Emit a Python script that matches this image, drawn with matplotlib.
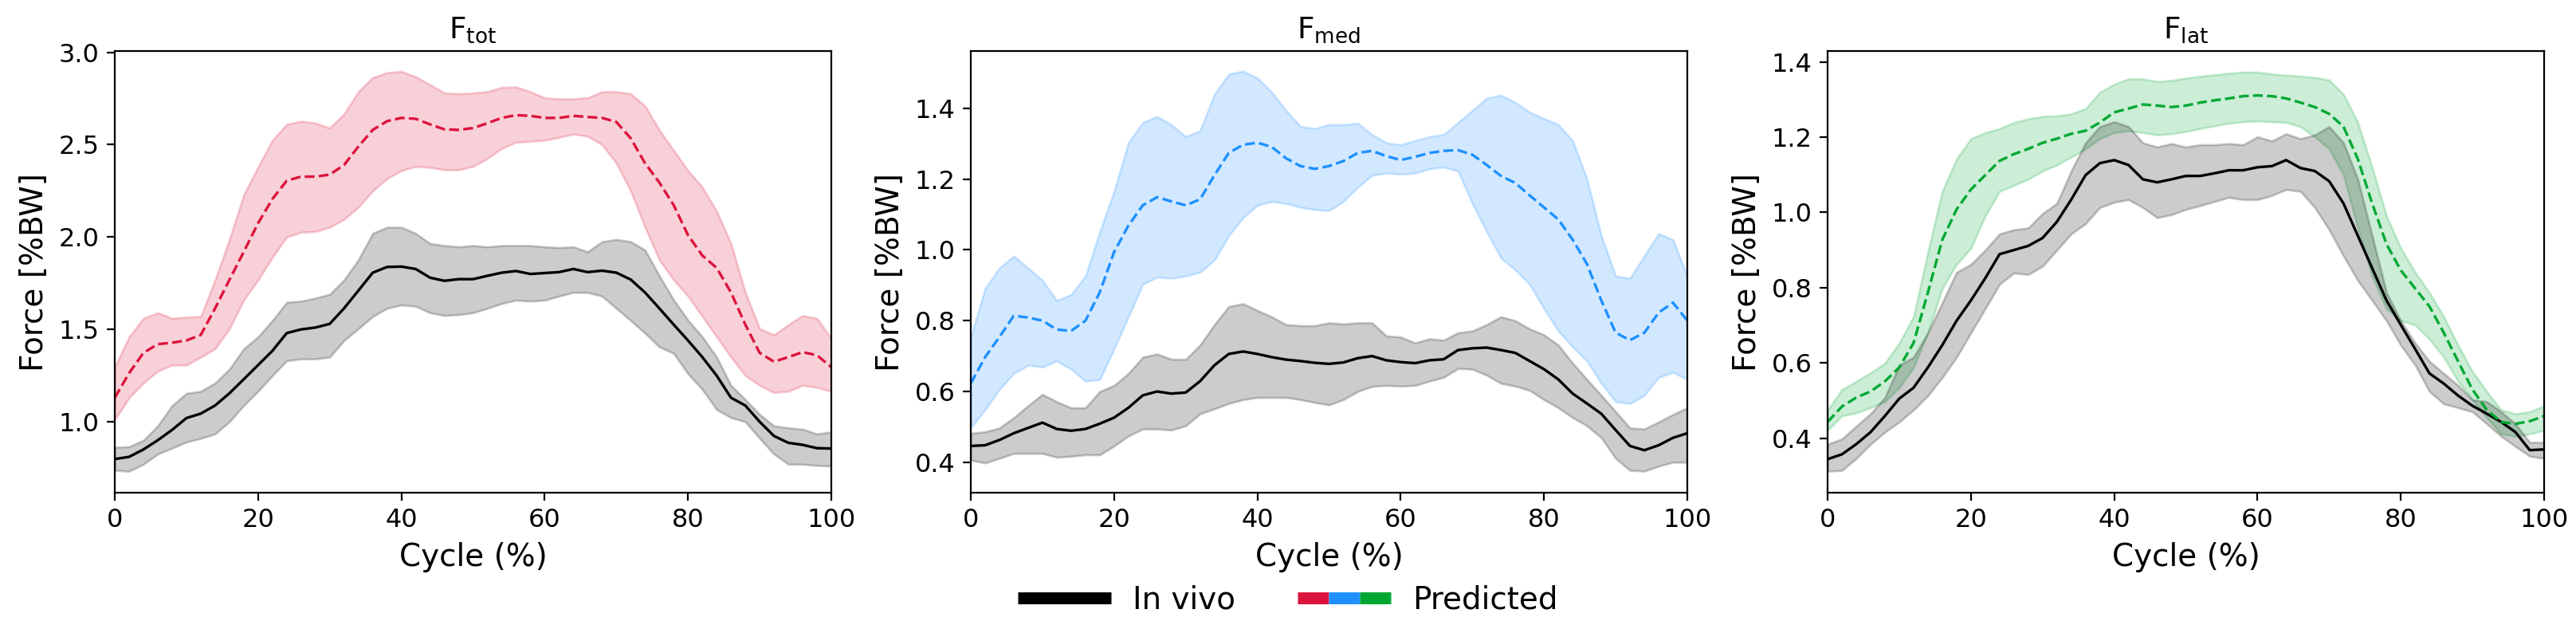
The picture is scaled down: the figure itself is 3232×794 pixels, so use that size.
import numpy as np
import matplotlib
matplotlib.use("Agg")
import matplotlib.pyplot as plt
from matplotlib.lines import Line2D
from matplotlib.legend_handler import HandlerTuple

cycle = np.arange(0, 101, 2)

tot_vivo_mean = [0.798,0.81,0.85,0.90,0.956,1.02,1.044,1.088,1.154,1.23,
 1.307,1.384,1.48,1.50,1.51,1.53,1.614,1.71,1.807,1.838,
 1.84,1.827,1.78,1.763,1.772,1.772,1.79,1.807,1.816,1.80,
 1.805,1.81,1.827,1.81,1.818,1.807,1.77,1.70,1.614,1.526,
 1.44,1.35,1.25,1.13,1.088,1.0,0.923,0.886,0.875,0.857,0.855]
tot_vivo_hi = [0.862,0.865,0.90,0.978,1.088,1.154,1.165,1.21,1.285,1.395,
 1.46,1.548,1.647,1.653,1.67,1.69,1.768,1.877,2.02,2.053,
 2.053,2.02,1.965,1.954,1.947,1.954,1.947,1.954,1.954,1.954,
 1.947,1.943,1.947,1.92,1.975,1.987,1.975,1.93,1.79,1.66,
 1.55,1.46,1.35,1.197,1.12,1.04,0.978,0.967,0.96,0.934,0.945]
tot_vivo_lo = [0.737,0.732,0.77,0.825,0.857,0.89,0.91,0.934,1.0,1.088,
 1.165,1.25,1.33,1.34,1.34,1.35,1.44,1.504,1.57,1.614,
 1.632,1.625,1.59,1.575,1.58,1.59,1.614,1.64,1.658,1.653,
 1.658,1.68,1.70,1.70,1.68,1.614,1.548,1.48,1.405,1.37,
 1.26,1.175,1.066,1.022,1.0,0.91,0.825,0.77,0.77,0.763,0.76]
tot_pred_mean = [1.13,1.263,1.373,1.42,1.428,1.44,1.47,1.614,1.768,1.92,
 2.075,2.206,2.305,2.327,2.327,2.338,2.39,2.49,2.58,2.627,
 2.645,2.64,2.61,2.583,2.58,2.59,2.616,2.645,2.66,2.656,
 2.645,2.645,2.656,2.65,2.645,2.623,2.535,2.40,2.295,2.173,
 2.01,1.90,1.833,1.70,1.526,1.373,1.325,1.35,1.377,1.36,1.296]
tot_pred_hi = [1.296,1.46,1.56,1.59,1.56,1.566,1.57,1.768,1.987,2.228,
 2.38,2.524,2.61,2.627,2.618,2.59,2.667,2.787,2.864,2.89,
 2.897,2.868,2.825,2.78,2.776,2.78,2.787,2.81,2.813,2.787,
 2.754,2.748,2.748,2.754,2.787,2.787,2.776,2.71,2.58,2.47,
 2.36,2.27,2.14,1.965,1.70,1.504,1.47,1.526,1.575,1.56,1.45]
tot_pred_lo = [1.011,1.13,1.21,1.274,1.307,1.307,1.35,1.395,1.504,1.658,
 1.768,1.89,2.0,2.026,2.03,2.053,2.096,2.162,2.25,2.316,
 2.36,2.382,2.377,2.364,2.364,2.382,2.425,2.48,2.513,2.518,
 2.524,2.54,2.557,2.546,2.50,2.40,2.25,2.053,1.877,1.768,
 1.68,1.57,1.46,1.35,1.25,1.197,1.158,1.165,1.197,1.186,1.165]

med_vivo_mean = [0.446,0.448,0.463,0.482,0.497,0.512,0.494,0.489,0.494,0.509,
 0.526,0.554,0.589,0.60,0.594,0.597,0.629,0.674,0.706,0.713,
 0.706,0.697,0.69,0.686,0.681,0.678,0.682,0.694,0.70,0.688,
 0.683,0.68,0.688,0.691,0.717,0.722,0.724,0.717,0.709,0.686,
 0.663,0.634,0.594,0.566,0.537,0.491,0.446,0.434,0.448,0.469,0.482]
med_vivo_hi = [0.482,0.486,0.497,0.526,0.56,0.592,0.571,0.554,0.554,0.60,
 0.617,0.651,0.697,0.706,0.691,0.691,0.731,0.789,0.84,0.848,
 0.829,0.811,0.789,0.786,0.786,0.794,0.791,0.794,0.794,0.757,
 0.754,0.737,0.749,0.745,0.766,0.771,0.789,0.811,0.80,0.777,
 0.76,0.731,0.68,0.634,0.589,0.543,0.497,0.494,0.514,0.535,0.554]
med_vivo_lo = [0.406,0.398,0.411,0.425,0.425,0.425,0.414,0.417,0.421,0.421,
 0.446,0.474,0.494,0.494,0.491,0.503,0.537,0.551,0.566,0.577,
 0.583,0.583,0.583,0.577,0.569,0.562,0.577,0.60,0.614,0.617,
 0.615,0.617,0.629,0.64,0.665,0.663,0.646,0.623,0.615,0.603,
 0.577,0.554,0.526,0.503,0.469,0.411,0.377,0.375,0.389,0.40,0.40]
med_pred_mean = [0.623,0.697,0.754,0.814,0.809,0.80,0.775,0.771,0.80,0.88,
 0.994,1.069,1.126,1.149,1.137,1.126,1.143,1.211,1.274,1.297,
 1.303,1.291,1.259,1.237,1.229,1.237,1.251,1.274,1.28,1.265,
 1.254,1.263,1.274,1.28,1.282,1.269,1.24,1.209,1.189,1.154,
 1.12,1.086,1.029,0.96,0.857,0.766,0.745,0.766,0.823,0.851,0.80]
med_pred_hi = [0.754,0.891,0.949,0.983,0.949,0.914,0.857,0.874,0.926,1.051,
 1.166,1.303,1.36,1.377,1.354,1.32,1.337,1.44,1.497,1.505,
 1.486,1.446,1.394,1.349,1.343,1.354,1.354,1.358,1.326,1.303,
 1.297,1.309,1.32,1.326,1.36,1.394,1.429,1.437,1.417,1.389,
 1.371,1.354,1.309,1.20,1.04,0.926,0.92,0.983,1.046,1.029,0.926]
med_pred_lo = [0.497,0.549,0.606,0.651,0.674,0.669,0.686,0.663,0.629,0.634,
 0.72,0.811,0.903,0.923,0.92,0.926,0.937,0.971,1.04,1.091,
 1.126,1.137,1.131,1.12,1.114,1.111,1.137,1.177,1.211,1.217,
 1.214,1.217,1.229,1.234,1.223,1.131,1.051,0.977,0.943,0.903,
 0.834,0.771,0.726,0.686,0.623,0.571,0.566,0.589,0.64,0.654,0.634]

lat_vivo_mean = [0.344,0.357,0.384,0.416,0.459,0.505,0.534,0.588,0.647,0.712,
 0.766,0.825,0.889,0.90,0.911,0.932,0.975,1.034,1.099,1.131,
 1.139,1.126,1.088,1.08,1.088,1.097,1.097,1.104,1.112,1.112,
 1.12,1.123,1.139,1.118,1.11,1.083,1.024,0.938,0.852,0.766,
 0.701,0.637,0.572,0.545,0.513,0.486,0.465,0.443,0.416,0.368,0.37]
lat_vivo_hi = [0.384,0.398,0.432,0.465,0.508,0.594,0.615,0.68,0.76,0.841,
 0.862,0.90,0.943,0.954,0.959,0.997,1.024,1.11,1.185,1.228,
 1.241,1.228,1.185,1.174,1.183,1.174,1.18,1.18,1.183,1.18,
 1.201,1.19,1.209,1.196,1.206,1.228,1.185,1.088,0.938,0.787,
 0.712,0.653,0.604,0.572,0.54,0.502,0.497,0.47,0.438,0.389,0.389]
lat_vivo_lo = [0.312,0.314,0.346,0.384,0.416,0.443,0.475,0.513,0.561,0.615,
 0.68,0.744,0.809,0.839,0.835,0.857,0.90,0.943,0.97,1.013,
 1.027,1.034,1.013,0.986,0.994,1.008,1.018,1.029,1.04,1.034,
 1.034,1.045,1.061,1.056,1.013,0.954,0.884,0.819,0.766,0.712,
 0.647,0.594,0.524,0.491,0.481,0.47,0.438,0.405,0.378,0.352,0.346]
lat_pred_mean = [0.443,0.484,0.508,0.524,0.551,0.588,0.653,0.787,0.927,1.008,
 1.061,1.099,1.137,1.155,1.169,1.185,1.196,1.209,1.217,1.239,
 1.266,1.276,1.287,1.284,1.28,1.284,1.292,1.298,1.303,1.309,
 1.311,1.309,1.303,1.292,1.28,1.262,1.228,1.142,1.024,0.916,
 0.846,0.798,0.75,0.68,0.604,0.529,0.475,0.443,0.438,0.445,0.459]
lat_pred_hi = [0.475,0.529,0.551,0.574,0.599,0.653,0.723,0.895,1.056,1.142,
 1.196,1.212,1.223,1.239,1.249,1.255,1.257,1.262,1.276,1.319,
 1.341,1.355,1.355,1.348,1.351,1.357,1.362,1.366,1.37,1.373,
 1.373,1.368,1.365,1.362,1.359,1.352,1.314,1.239,1.12,0.991,
 0.905,0.841,0.787,0.723,0.647,0.577,0.524,0.475,0.465,0.47,0.486]
lat_pred_lo = [0.421,0.459,0.467,0.481,0.497,0.534,0.588,0.68,0.798,0.862,
 0.905,0.991,1.056,1.072,1.088,1.11,1.126,1.147,1.169,1.196,
 1.212,1.217,1.212,1.206,1.209,1.215,1.223,1.23,1.237,1.241,
 1.243,1.241,1.239,1.228,1.201,1.169,1.099,0.959,0.83,0.744,
 0.712,0.701,0.663,0.615,0.551,0.502,0.454,0.411,0.405,0.411,0.421]

titles = [r"F$_{\mathrm{tot}}$", r"F$_{\mathrm{med}}$", r"F$_{\mathrm{lat}}$"]
pred_colors = ["#DC143C", "#1E90FF", "#00A832"]
ylims = [(0.616, 3.007), (0.314, 1.562), (0.255, 1.429)]
yticks = [[1.0, 1.5, 2.0, 2.5, 3.0], [0.4, 0.6, 0.8, 1.0, 1.2, 1.4], [0.4, 0.6, 0.8, 1.0, 1.2, 1.4]]
xticks = [0, 20, 40, 60, 80, 100]

panels = [
    (tot_vivo_mean, tot_vivo_lo, tot_vivo_hi, tot_pred_mean, tot_pred_lo, tot_pred_hi),
    (med_vivo_mean, med_vivo_lo, med_vivo_hi, med_pred_mean, med_pred_lo, med_pred_hi),
    (lat_vivo_mean, lat_vivo_lo, lat_vivo_hi, lat_pred_mean, lat_pred_lo, lat_pred_hi),
]

fig = plt.figure(figsize=(16.16, 3.97), dpi=200)
lefts = [144/3232, 1218/3232, 2293/3232]
w = 899/3232
bottom = 1 - 618/794
h = (618 - 64)/794

for i, (vm, vl, vh, pm, pl, ph) in enumerate(panels):
    ax = fig.add_axes([lefts[i], bottom, w, h])
    c = pred_colors[i]
    ax.fill_between(cycle, pl, ph, color=c, alpha=0.2)
    ax.fill_between(cycle, vl, vh, color="black", alpha=0.2)
    ax.plot(cycle, vm, color="black", lw=1.2)
    ax.plot(cycle, pm, color=c, lw=1.2, ls="--")
    ax.set_xlim(0, 100)
    ax.set_ylim(*ylims[i])
    ax.set_xticks(xticks)
    ax.set_yticks(yticks[i])
    ax.tick_params(labelsize=11.5)
    ax.set_xlabel("Cycle (%)", fontsize=14)
    ax.set_ylabel("Force [%BW]", fontsize=14)
    ax.set_title(titles[i], fontsize=13.5)

h_vivo = Line2D([], [], color="black", lw=5.4, solid_capstyle="butt")
h_pred = tuple(Line2D([], [], color=c, lw=5.4, solid_capstyle="butt") for c in pred_colors)
fig.legend([h_vivo, h_pred], ["In vivo", "Predicted"],
           handler_map={tuple: HandlerTuple(ndivide=None, pad=0)},
           loc="center", bbox_to_anchor=(0.5, 0.052), ncol=2, frameon=False,
           fontsize=14, handlelength=3.0, handletextpad=0.7, columnspacing=2.0)

fig.savefig("out.png", dpi=200)
